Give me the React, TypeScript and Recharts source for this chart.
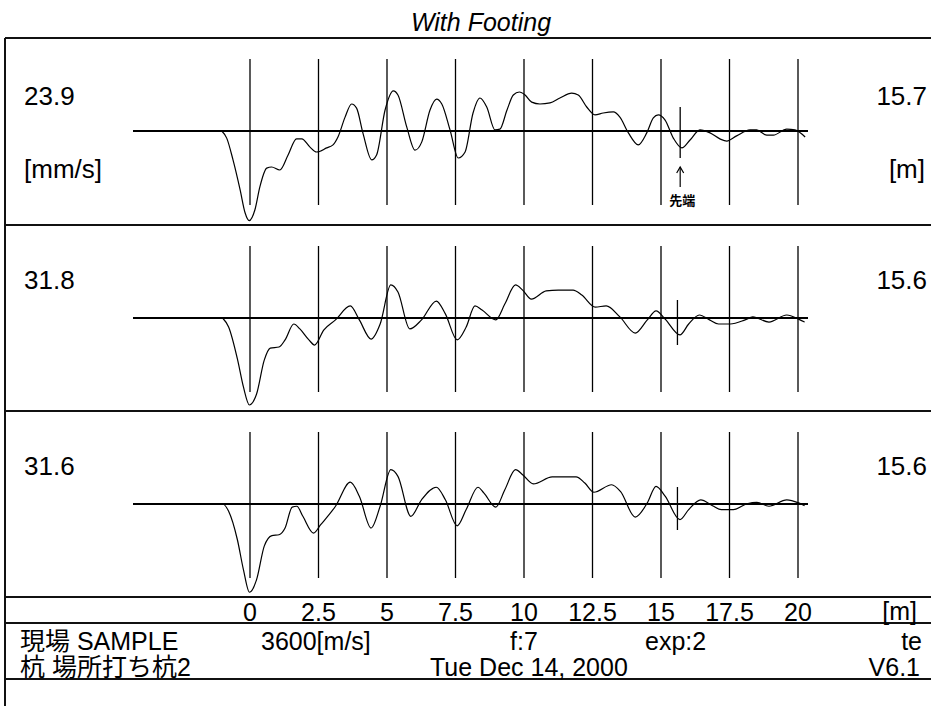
import React from 'react';
import { LineChart, Line, XAxis, YAxis, ReferenceLine } from 'recharts';

// depth ticks along the pile [m]
const TICKS = [0, 2.5, 5, 7.5, 10, 12.5, 15, 17.5, 20];

// trace 1 : depth [m] / velocity [mm/s]
const DEPTH_1 = [-1.03, -0.85, -0.62, -0.36, -0.18, -0.03, 0.18, 0.36, 0.61, 0.79, 1.09, 1.39, 1.7, 1.89, 2.19, 2.43, 2.8, 3.03, 3.21, 3.47, 3.71, 3.89, 4.12, 4.44, 4.62, 4.93, 5.23, 5.4, 5.72, 6.02, 6.27, 6.57, 6.81, 7.0, 7.3, 7.6, 7.85, 8.14, 8.39, 8.64, 8.94, 9.12, 9.38, 9.61, 9.83, 10.04, 10.28, 10.58, 10.95, 11.31, 11.74, 11.98, 12.29, 12.59, 12.89, 13.26, 13.5, 13.81, 14.17, 14.48, 14.72, 14.9, 15.15, 15.45, 15.76, 16.06, 16.42, 16.79, 17.15, 17.4, 17.76, 18.25, 18.49, 18.86, 19.1, 19.59, 19.89, 20.26];
const VEL_1 = [0, -1.9, -7.7, -15.7, -21.8, -23.9, -21.0, -14.9, -9.9, -9.6, -10.4, -6.4, -2.1, -2.1, -4.3, -5.6, -4.5, -3.7, -1.6, 3.7, 7.2, 6.1, -0.5, -7.7, -6.4, 5.6, 10.7, 9.6, 1.1, -5.1, -2.9, 5.6, 8.5, 7.2, 0.3, -7.2, -5.6, 4.8, 8.8, 6.4, 0.3, 0.5, 5.6, 9.6, 10.4, 9.6, 7.7, 7.2, 7.5, 8.8, 10.1, 9.6, 6.4, 4.3, 4.8, 5.1, 3.7, -0.5, -3.7, -0.5, 3.5, 4.3, 2.9, -1.9, -4.5, -2.4, 0.3, -0.5, -2.1, -2.7, -1.3, 0.3, 0.3, -1.1, -1.1, 0.5, 0.3, -1.6];

// trace 2
const DEPTH_2 = [-1.0, -0.78, -0.45, -0.24, -0.02, 0.24, 0.52, 0.74, 1.06, 1.28, 1.6, 1.82, 2.15, 2.36, 2.69, 3.12, 3.66, 3.99, 4.42, 4.75, 5.14, 5.4, 5.83, 6.26, 6.8, 7.13, 7.56, 7.89, 8.21, 8.47, 8.97, 9.3, 9.69, 9.95, 10.27, 10.81, 11.25, 11.79, 12.11, 12.6, 13.0, 13.5, 14.06, 14.5, 14.82, 15.15, 15.69, 16.01, 16.4, 16.77, 17.1, 17.53, 18.07, 18.35, 18.94, 19.59, 20.02, 20.24];
const VEL_2 = [0, -3.3, -15.4, -25.2, -31.8, -27.8, -15.4, -11.0, -10.6, -8.0, -2.2, -4.0, -8.0, -9.9, -4.4, -0.7, 4.4, -0.7, -7.7, -2.2, 12.1, 9.5, -4.0, -0.7, 6.2, 1.5, -8.0, -3.3, 4.4, 2.9, -0.7, 5.1, 12.1, 10.2, 6.9, 9.9, 10.2, 10.2, 8.4, 4.0, 4.4, 0.4, -5.5, -0.7, 2.6, -0.4, -6.2, -2.2, 1.1, -0.7, -2.2, -2.2, -0.7, 0.4, -1.5, 1.1, -0.4, -1.5];

// trace 3
const DEPTH_3 = [-1.1, -1.0, -0.78, -0.46, -0.24, -0.02, 0.24, 0.52, 0.8, 1.06, 1.28, 1.54, 1.71, 1.93, 2.32, 2.58, 3.12, 3.66, 3.99, 4.42, 4.75, 5.14, 5.4, 5.87, 6.26, 6.8, 7.13, 7.56, 7.89, 8.32, 8.54, 8.97, 9.3, 9.69, 9.95, 10.34, 11.03, 11.9, 12.22, 12.55, 13.2, 13.52, 14.06, 14.5, 14.82, 15.15, 15.69, 16.01, 16.45, 16.88, 17.2, 17.64, 18.14, 18.5, 18.94, 19.59, 20.02, 20.24];
const VEL_3 = [0, 0, -2.6, -12.8, -23.5, -31.6, -27.1, -15.1, -11.3, -11.0, -8.6, -1.1, -0.8, -4.4, -10.4, -7.4, -0.8, 7.8, 2.8, -8.6, -0.8, 12.3, 9.9, -4.4, 1.5, 6.0, 1.5, -7.8, -2.0, 6.0, 3.9, -1.1, 5.1, 12.3, 10.5, 7.2, 9.7, 9.7, 7.5, 4.2, 6.9, 4.5, -4.7, 0.4, 6.3, 2.8, -5.6, -2.0, 1.5, -0.6, -2.0, -2.0, 0.1, 0.6, -0.8, 1.5, 0.4, -0.6];

const PEAK = ['23.9', '31.8', '31.6'];
const TOE = [15.7, 15.6, 15.6];

const TITLE = 'With Footing';
const SITE = '現場 SAMPLE';
const PILE = '杭 場所打ち杭2';
const WAVE_SPEED = '3600[m/s]';
const FILTER = 'f:7';
const EXP = 'exp:2';
const DATE = 'Tue Dec 14, 2000';
const USER = 'te';
const VERSION = 'V6.1';

const W = 931;
const H = 706;
const PANEL_H = 186;
const AXIS_H = 34;
const PANEL_TOPS = [38, 225, 411];
const PLOT_LEFT = 133;
const PLOT_RIGHT = 808;
const X_DOMAIN: [number, number] = [-4.27, 20.365];
const Y_HALF = [24.8, 34.0, 33.3];
const MARK = [[24, 27], [18, 27], [17, 26]];
const FONT = '"Liberation Sans", Arial, "Noto Sans CJK JP", sans-serif';

const traces = [
  DEPTH_1.map((x, i) => ({ x, v: VEL_1[i] })),
  DEPTH_2.map((x, i) => ({ x, v: VEL_2[i] })),
  DEPTH_3.map((x, i) => ({ x, v: VEL_3[i] })),
];

const ArrowShape = (props: any) => {
  const { x1, y1, y2 } = props;
  const top = Math.min(y1, y2);
  const bottom = Math.max(y1, y2);
  return (
    <g>
      <line x1={x1} y1={top} x2={x1} y2={bottom} stroke="#000" strokeWidth={1.2} />
      <polyline points={`${x1 - 3.5},${top + 6} ${x1},${top} ${x1 + 3.5},${top + 6}`} fill="none" stroke="#000" strokeWidth={1.2} />
      <text x={x1 + 2} y={bottom + 18} textAnchor="middle" fontSize={13} fontWeight="bold" fontFamily='"Noto Sans CJK JP", sans-serif'>先端</text>
    </g>
  );
};

const Panel = ({ idx }: { idx: number }) => {
  const half = Y_HALF[idx];
  const u = (px: number) => (px * half) / (PANEL_H / 2);
  const showAxis = idx === 2;
  return (
    <div style={{ position: 'absolute', left: 0, top: PANEL_TOPS[idx] }}>
      <LineChart
        width={W}
        height={PANEL_H + (showAxis ? AXIS_H : 0)}
        data={traces[idx]}
        margin={{ top: 0, right: W - PLOT_RIGHT, bottom: 0, left: PLOT_LEFT }}
      >
        <XAxis
          dataKey="x"
          type="number"
          domain={X_DOMAIN}
          allowDataOverflow
          hide={!showAxis}
          ticks={TICKS}
          interval={0}
          height={AXIS_H}
          axisLine={false}
          tickLine={false}
          tickSize={0}
          tickMargin={6}
          tick={{ fill: '#000', fontSize: 25, fontFamily: FONT }}
        />
        <YAxis hide type="number" domain={[-half, half]} allowDataOverflow />
        <ReferenceLine y={0} stroke="#000" strokeWidth={2} />
        {TICKS.map((t) => (
          <ReferenceLine key={t} segment={[{ x: t, y: u(72) }, { x: t, y: u(-74) }]} stroke="#000" strokeWidth={1.3} />
        ))}
        <ReferenceLine
          segment={[{ x: TOE[idx], y: u(MARK[idx][0]) }, { x: TOE[idx], y: u(-MARK[idx][1]) }]}
          stroke="#000"
          strokeWidth={1.3}
        />
        {idx === 0 && (
          <ReferenceLine
            segment={[{ x: TOE[0], y: u(-36) }, { x: TOE[0], y: u(-56) }]}
            stroke="#000"
            shape={ArrowShape}
          />
        )}
        <Line type="monotone" dataKey="v" stroke="#000" strokeWidth={1.2} dot={false} isAnimationActive={false} />
      </LineChart>
    </div>
  );
};

export default function App() {
  const hLines = [38, 225, 411, 597, 623, 679];
  const numBase = [105, 289, 475];
  const unitBase = [178];
  return (
    <div style={{ position: 'absolute', left: 0, top: 0, width: W, height: H, background: '#fff', overflow: 'hidden' }}>
      {[0, 1, 2].map((i) => (
        <Panel key={i} idx={i} />
      ))}
      <svg width={W} height={H} style={{ position: 'absolute', left: 0, top: 0, pointerEvents: 'none' }} fontFamily={FONT}>
        {hLines.map((y) => (
          <line key={y} x1={5} y1={y} x2={W} y2={y} stroke="#111" strokeWidth={2} />
        ))}
        <line x1={5} y1={38} x2={5} y2={H} stroke="#111" strokeWidth={2} />
        <text x={481} y={31} textAnchor="middle" fontSize={25} fontStyle="italic">{TITLE}</text>
        {PEAK.map((p, i) => (
          <text key={'p' + i} x={24} y={numBase[i]} fontSize={26}>{p}</text>
        ))}
        {TOE.map((t, i) => (
          <text key={'t' + i} x={927} y={numBase[i]} fontSize={26} textAnchor="end">{t.toFixed(1)}</text>
        ))}
        <text x={24} y={unitBase[0]} fontSize={26}>[mm/s]</text>
        <text x={925} y={unitBase[0]} fontSize={26} textAnchor="end">[m]</text>
        <text x={917} y={620} fontSize={25} textAnchor="end">[m]</text>
        <text x={20} y={650} fontSize={25}>{SITE}</text>
        <text x={261} y={650} fontSize={25}>{WAVE_SPEED}</text>
        <text x={510} y={650} fontSize={25}>{FILTER}</text>
        <text x={645} y={650} fontSize={25}>{EXP}</text>
        <text x={922} y={650} fontSize={25} textAnchor="end">{USER}</text>
        <text x={20} y={676} fontSize={25}>{PILE}</text>
        <text x={430} y={676} fontSize={25}>{DATE}</text>
        <text x={920} y={676} fontSize={25} textAnchor="end">{VERSION}</text>
      </svg>
    </div>
  );
}
